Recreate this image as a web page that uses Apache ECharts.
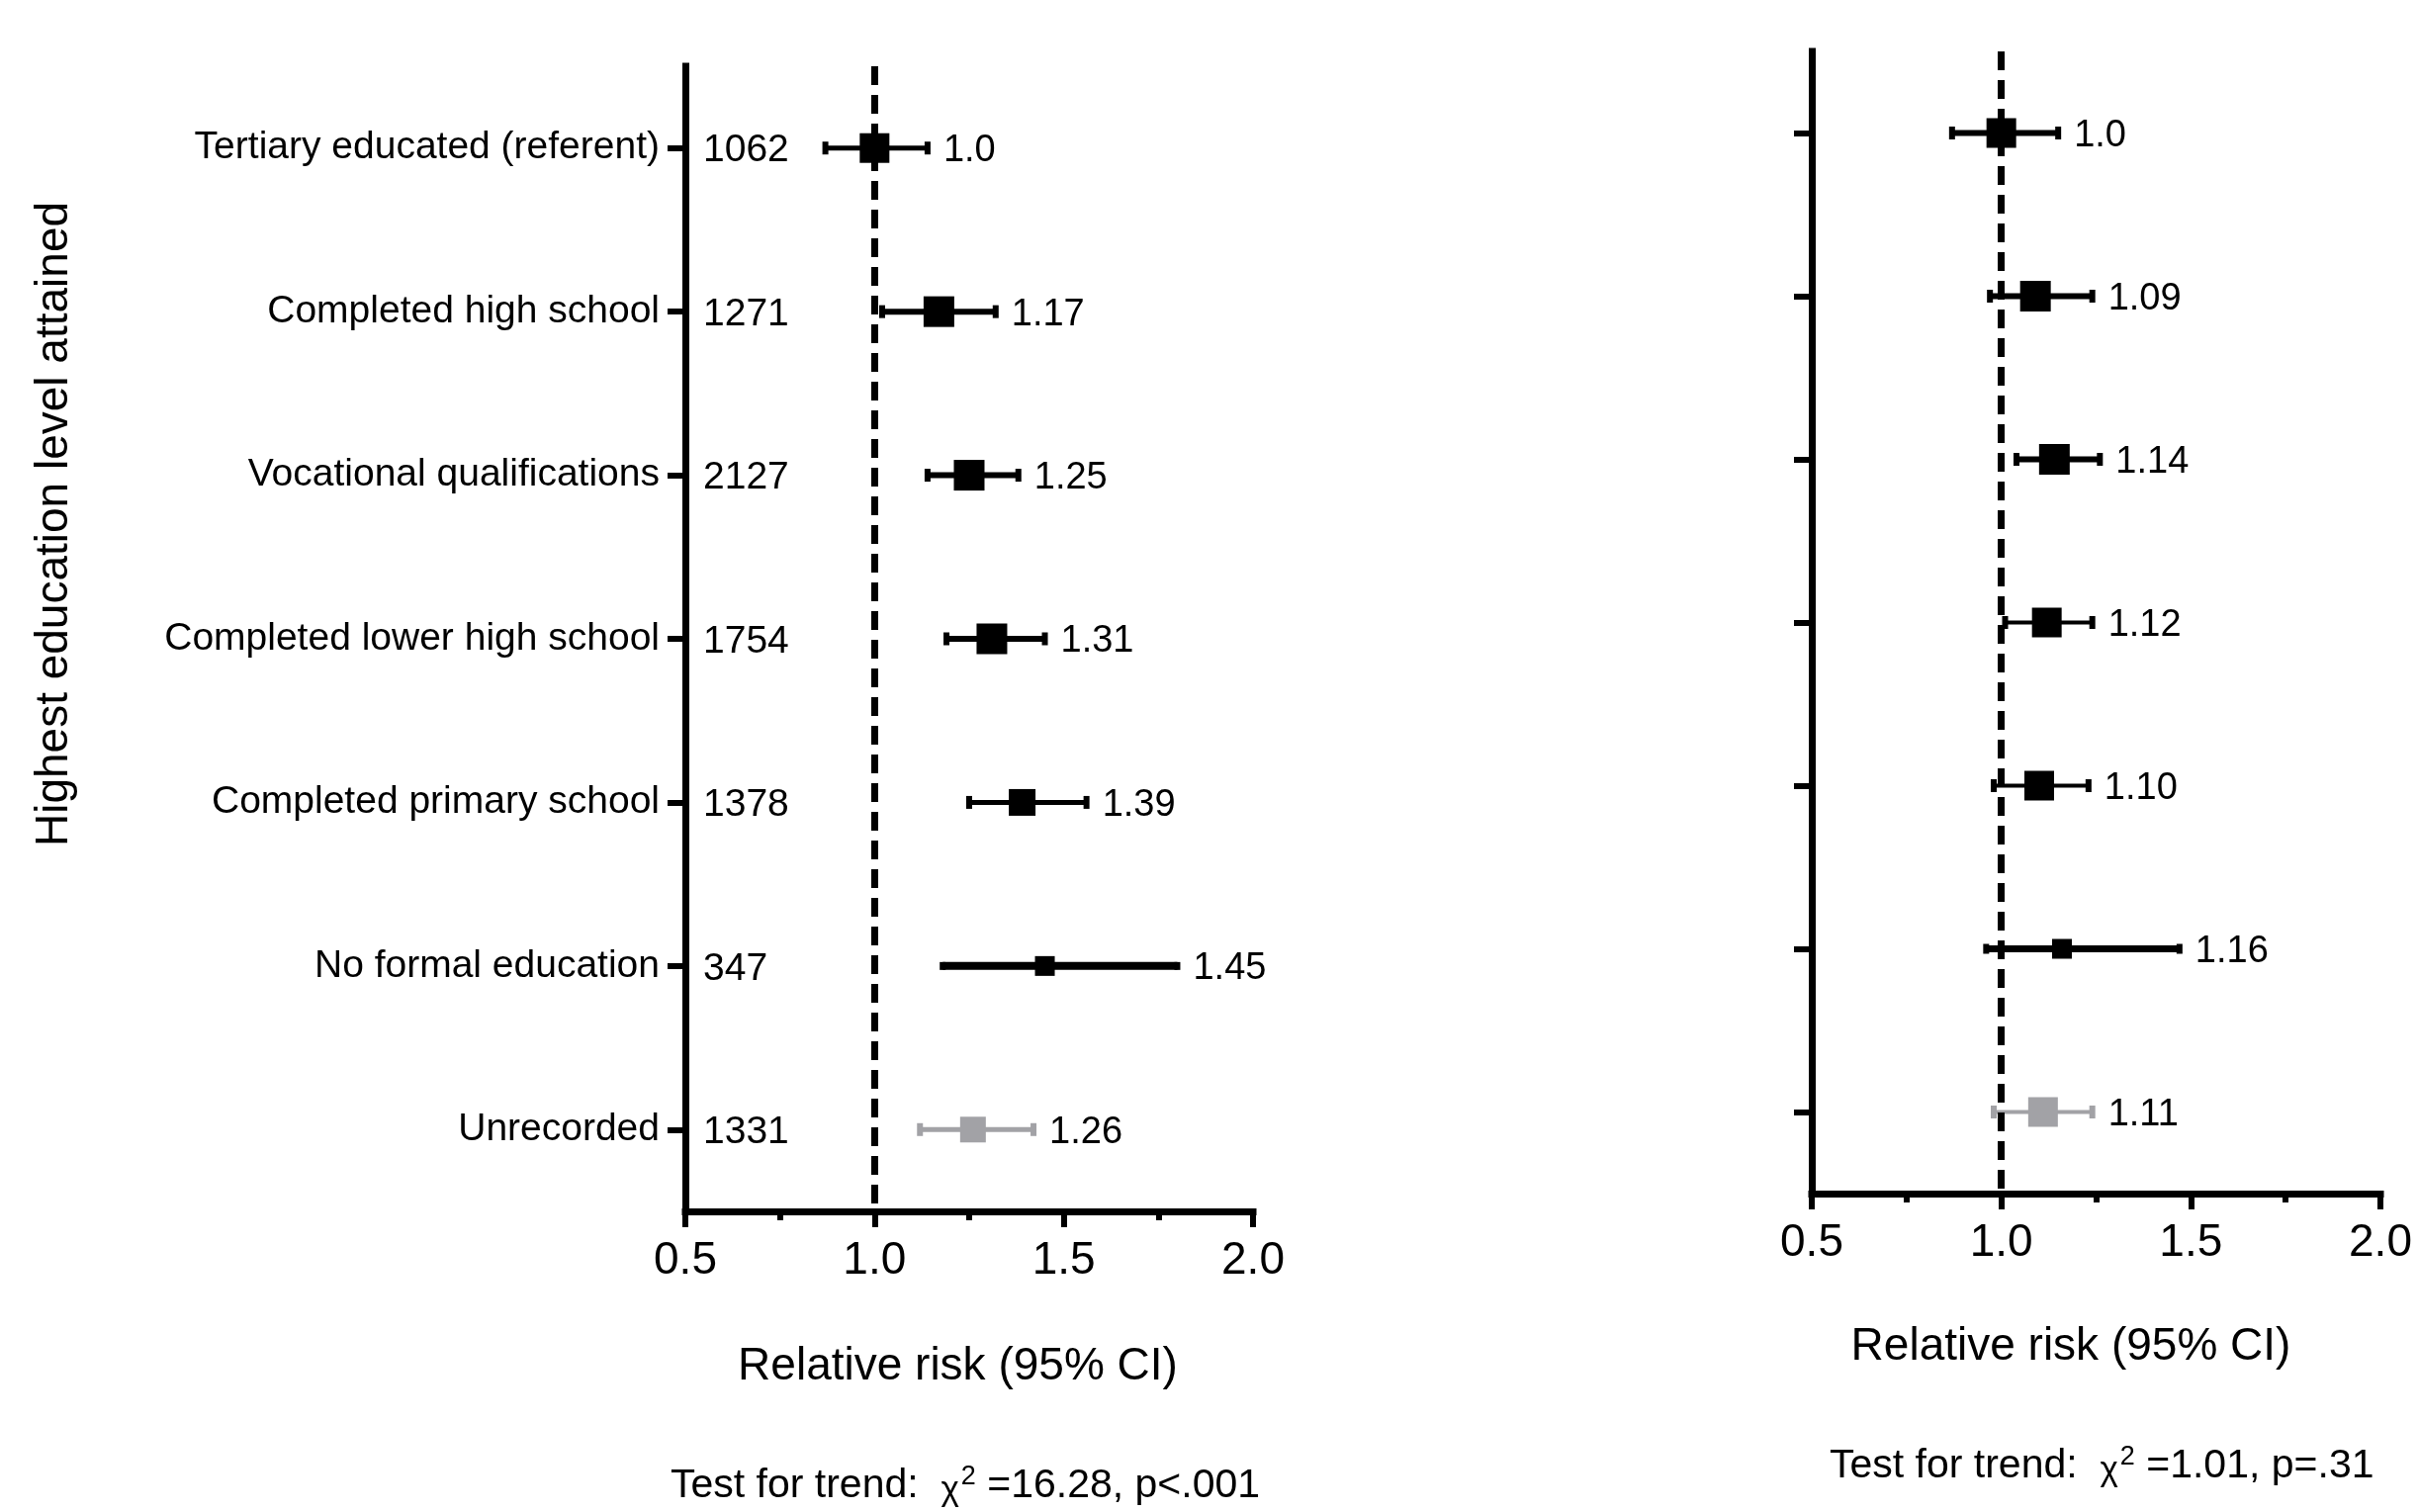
<!DOCTYPE html>
<html>
<head>
<meta charset="utf-8">
<script src="https://cdn.jsdelivr.net/npm/echarts/dist/echarts.min.js"></script>
<style>
html,body{margin:0;padding:0;background:#fff;}
#chart{width:2445px;height:1529px;}
</style>
</head>
<body>
<div id="chart"></div>
<script>
// ---------------- DATA ----------------
const categories = [
  'Tertiary educated (referent)',
  'Completed high school',
  'Vocational qualifications',
  'Completed lower high school',
  'Completed primary school',
  'No formal education',
  'Unrecorded'
];
const sampleN = [1062, 1271, 2127, 1754, 1378, 347, 1331];

const leftRR   = [1.00, 1.17, 1.25, 1.31, 1.39, 1.45, 1.26];
const leftLow  = [0.87, 1.02, 1.14, 1.19, 1.25, 1.18, 1.12];
const leftHigh = [1.14, 1.32, 1.38, 1.45, 1.56, 1.80, 1.42];
const leftLabels = ['1.0', '1.17', '1.25', '1.31', '1.39', '1.45', '1.26'];

const rightRR   = [1.00, 1.09, 1.14, 1.12, 1.10, 1.16, 1.11];
const rightLow  = [0.87, 0.97, 1.04, 1.01, 0.98, 0.96, 0.98];
const rightHigh = [1.15, 1.24, 1.26, 1.24, 1.23, 1.47, 1.24];
const rightLabels = ['1.0', '1.09', '1.14', '1.12', '1.10', '1.16', '1.11'];

const xTickLabels = ['0.5', '1.0', '1.5', '2.0'];
const referenceValue = 1.0;
const xName = 'Relative risk (95% CI)';
const yName = 'Highest education level attained';
const trendLeft = ['Test for trend:', '16.28', 'p<.001'];
const trendRight = ['Test for trend:', '1.01', 'p=.31'];

// ---------------- STYLE ----------------
const FONT = '"Liberation Sans", Arial, Helvetica, sans-serif';
const GRAY = '#a2a2a6';
const boxL = [30, 31, 31, 31, 27, 20, 26];
const boxR = [30, 31, 31, 30, 30, 20, 30];
const lineWL = [5, 6, 6, 6, 5, 8, 5];
const lineWR = [6, 6, 6, 4, 4, 7, 4];
const capHL = [13, 13, 13, 13, 13, 8, 13];
const capHR = [13, 13, 13, 13, 13, 10, 13];

function buildData(rr, lo, hi) {
  return rr.map((v, i) => [v, i, lo[i], hi[i]]);
}

function makeRender(labels, boxes, lws, caps, counts) {
  return function (params, api) {
    const i = params.dataIndex;
    const idx = api.value(1);
    const pC = api.coord([api.value(0), idx]);
    const pL = api.coord([api.value(2), idx]);
    const pH = api.coord([api.value(3), idx]);
    const y = pC[1];
    const color = i === categories.length - 1 ? GRAY : '#000';
    const bs = boxes[i];
    const capH = caps[i], capW = 6;
    const children = [
      { type: 'line', shape: { x1: pL[0], y1: y, x2: pH[0], y2: y },
        style: { stroke: color, lineWidth: lws[i] } },
      { type: 'rect', shape: { x: pL[0] - capW / 2, y: y - capH / 2, width: capW, height: capH },
        style: { fill: color } },
      { type: 'rect', shape: { x: pH[0] - capW / 2, y: y - capH / 2, width: capW, height: capH },
        style: { fill: color } },
      { type: 'rect', shape: { x: pC[0] - bs / 2, y: y - bs / 2, width: bs, height: bs },
        style: { fill: color } },
      { type: 'text', style: { text: labels[i], x: pH[0] + 16, y: y + 3, fill: '#000',
        fontSize: 38, fontFamily: FONT, align: 'left', verticalAlign: 'middle' } }
    ];
    if (counts) {
      const p0 = api.coord([0.5, idx]);
      children.push({ type: 'text', style: { text: String(counts[i]), x: p0[0] + 18, y: y + 3,
        fill: '#000', fontSize: 39, fontFamily: FONT, align: 'left', verticalAlign: 'middle' } });
    }
    return { type: 'group', children: children };
  };
}

function xAxisCfg(gridIndex, namePad, nameGap) {
  return {
    type: 'value', gridIndex: gridIndex, min: 0.5, max: 2.0, interval: 0.5,
    axisLine: { show: true, lineStyle: { color: '#000', width: 7, cap: 'square' } },
    axisTick: { show: true, length: 16, lineStyle: { color: '#000', width: 6 } },
    minorTick: { show: true, splitNumber: 2, length: 9, lineStyle: { color: '#000', width: 6 } },
    splitLine: { show: false },
    axisLabel: { color: '#000', fontSize: 46, fontFamily: FONT, margin: 27,
      formatter: v => xTickLabels[Math.round((v - 0.5) / 0.5)] },
    name: xName, nameLocation: 'middle', nameGap: nameGap,
    nameTextStyle: { color: '#000', fontSize: 46, fontFamily: FONT, padding: namePad }
  };
}

function yAxisCfg(gridIndex, showLabels) {
  const cfg = {
    type: 'category', gridIndex: gridIndex, data: categories, inverse: true,
    axisLine: { show: true, lineStyle: { color: '#000', width: 7, cap: 'square' } },
    axisTick: { show: true, alignWithLabel: true, length: 18, lineStyle: { color: '#000', width: 6 } },
    splitLine: { show: false },
    axisLabel: { show: showLabels, color: '#000', fontSize: 39, fontFamily: FONT, margin: 26 }
  };
  if (showLabels) {
    cfg.name = yName;
    cfg.nameLocation = 'middle';
    cfg.nameRotate = 90;
    cfg.nameGap = 615;
    cfg.nameTextStyle = { color: '#000', fontSize: 46, fontFamily: FONT, padding: [0, 0, 0, 232] };
  }
  return cfg;
}

const refLine = {
  silent: true, symbol: ['none', 'none'], label: { show: false },
  lineStyle: { color: '#000', width: 7, type: [19, 10] },
  emphasis: { disabled: true },
  data: [{ xAxis: referenceValue }]
};

function trendText(t, x, y) {
  return {
    type: 'text', x: x, y: y,
    style: {
      text: '{a|' + t[0] + '  }{c|χ}{s|2}{a| =' + t[1] + ', ' + t[2] + '}',
      fill: '#000', verticalAlign: 'middle', align: 'left',
      rich: {
        a: { fontSize: 41, fontFamily: FONT, fill: '#000', color: '#000' },
        c: { fontSize: 35, fontFamily: FONT, fill: '#000', color: '#000', padding: [8, 0, 0, 0] },
        s: { fontSize: 27, fontFamily: FONT, fill: '#000', color: '#000', verticalAlign: 'top', padding: [0, 0, 18, 2] }
      }
    }
  };
}

const chart = echarts.init(document.getElementById('chart'), null, { renderer: 'canvas' });
chart.setOption({
  backgroundColor: '#fff',
  animation: false,
  grid: [
    { left: 693, top: 67, width: 574, height: 1158 },
    { left: 1832, top: 52, width: 575, height: 1155 }
  ],
  xAxis: [ xAxisCfg(0, [0, 23, 0, 0], 134), xAxisCfg(1, [0, 51, 0, 0], 132) ],
  yAxis: [ yAxisCfg(0, true), yAxisCfg(1, false) ],
  series: [
    {
      type: 'custom', name: 'Left', xAxisIndex: 0, yAxisIndex: 0,
      data: buildData(leftRR, leftLow, leftHigh),
      encode: { x: [0, 2, 3], y: 1 },
      renderItem: makeRender(leftLabels, boxL, lineWL, capHL, sampleN),
      markLine: refLine, z: 3
    },
    {
      type: 'custom', name: 'Right', xAxisIndex: 1, yAxisIndex: 1,
      data: buildData(rightRR, rightLow, rightHigh),
      encode: { x: [0, 2, 3], y: 1 },
      renderItem: makeRender(rightLabels, boxR, lineWR, capHR, null),
      markLine: refLine, z: 3
    }
  ],
  graphic: [
    trendText(trendLeft, 678, 1503),
    trendText(trendRight, 1850, 1483)
  ]
});
</script>
</body>
</html>
